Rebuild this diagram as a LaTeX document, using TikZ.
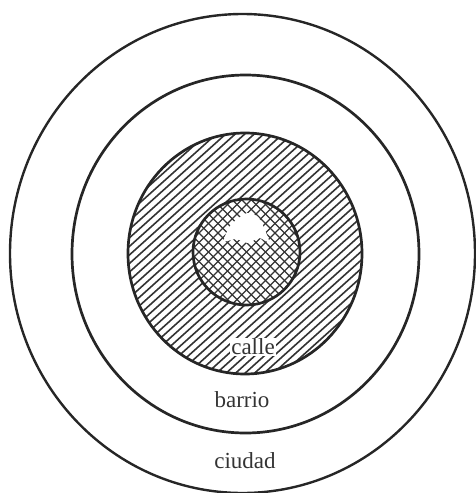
\documentclass[tikz,border=0pt]{standalone}
\usepackage{fontspec}
\setmainfont{Liberation Serif}
\begin{document}
\begin{tikzpicture}[x=1pt,y=-1pt,
  ring/.style={draw=black!85,line width=2.7pt},
  hatch/.style={black!80,line width=1.6pt},
  lab/.style={font=\fontsize{23}{26}\selectfont,text=black!80,inner sep=1pt}]
\useasboundingbox (0,0) rectangle (476,493);
% hatched annulus
\begin{scope}[even odd rule]
  \clip (245,253.5) ellipse [x radius=117,y radius=120.5]
        (246.5,252) ellipse [x radius=53.5,y radius=53];
  \foreach \i in {-45,...,45}
    \draw[hatch] (245+\i*9.5-200,253.5+180) -- (245+\i*9.5+200,253.5-180);
\end{scope}
% cross-hatched core
\begin{scope}
  \clip (246.5,252) ellipse [x radius=53.5,y radius=53];
  \foreach \i in {-20,...,20} {
    \draw[hatch,line width=1.3pt] (246.5+\i*9.5-80,252+80) -- (246.5+\i*9.5+80,252-80);
    \draw[hatch,line width=1.3pt] (246.5+\i*9.5-80,252-80) -- (246.5+\i*9.5+80,252+80);
  }
  \fill[white] plot[smooth cycle] coordinates {(224,241) (230,226) (240,217) (248,213) (258,217) (264,228) (269,242) (259,238) (248,243) (236,239)};
\end{scope}
% rings
\draw[ring,line width=2.4pt] (242.5,253.5) ellipse [x radius=232.5,y radius=239.5];
\draw[ring] (245.5,254) ellipse [x radius=173.5,y radius=179];
\draw[ring] (245,253.5) ellipse [x radius=117,y radius=120.5];
\draw[ring] (246.5,252) ellipse [x radius=53.5,y radius=53];
% labels
\node[lab,fill=white] (calle) at (253,347) {calle};
\node[lab] (barrio) at (242,400) {barrio};
\node[lab] (ciudad) at (245,461) {ciudad};
\end{tikzpicture}
\end{document}
